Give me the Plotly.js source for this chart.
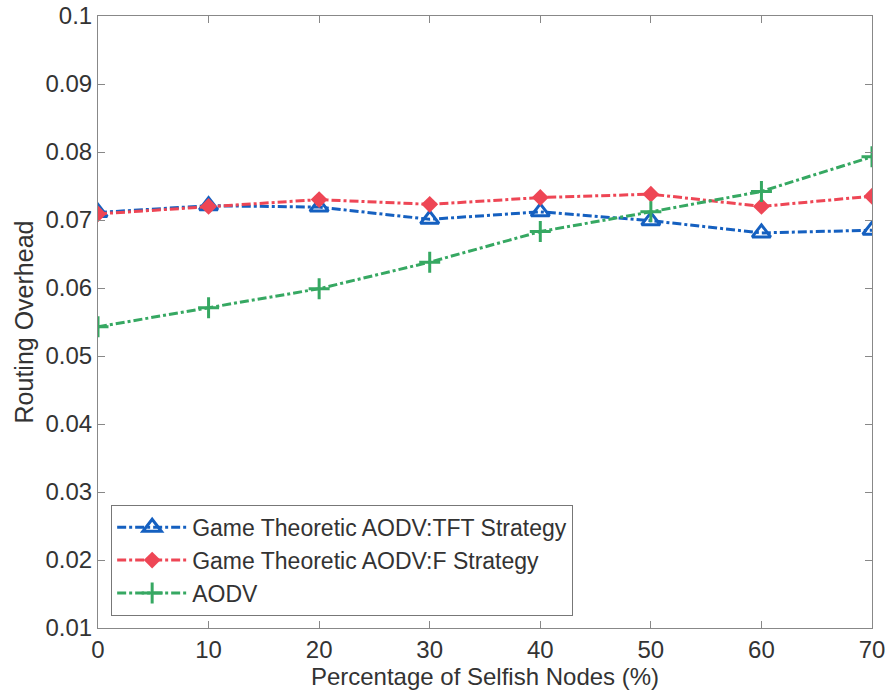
<!DOCTYPE html>
<html><head><meta charset="utf-8">
<script src="https://cdn.plot.ly/plotly-3.0.1.min.js"></script>
<style>body{margin:0;background:#fff}#chart{width:888px;height:693px}</style>
</head><body><div id="chart"></div>
<script>
const xValues = [0, 10, 20, 30, 40, 50, 60, 70];
const tftValues = [0.0711, 0.0721, 0.0719, 0.0701, 0.0712, 0.0699, 0.0681, 0.0685];
const fValues = [0.0709, 0.0720, 0.0730, 0.0723, 0.0733, 0.0738, 0.0720, 0.0735];
const aodvValues = [0.0543, 0.0571, 0.0599, 0.0638, 0.0683, 0.0712, 0.0742, 0.0793];
const seriesNames = ['Game Theoretic AODV:TFT Strategy', 'Game Theoretic AODV:F Strategy', 'AODV'];
const yTicks = [0.01,0.02,0.03,0.04,0.05,0.06,0.07,0.08,0.09,0.1];
const yTickLabels = ['0.01','0.02','0.03','0.04','0.05','0.06','0.07','0.08','0.09','0.1'];

const FONT = 'Liberation Sans, Arial, sans-serif';
const traces = [
  {x: xValues, y: tftValues, name: seriesNames[0], mode: 'lines+markers',
   line: {color: '#1560c0', width: 3, dash: 'dashdot'},
   marker: {symbol: 'triangle-up-open', size: 16, color: '#1560c0', line: {width: 3, color: '#1560c0'}}},
  {x: xValues, y: fValues, name: seriesNames[1], mode: 'lines+markers',
   line: {color: '#ee4655', width: 3, dash: 'dashdot'},
   marker: {symbol: 'diamond', size: 13, color: '#ee4655'}},
  {x: xValues, y: aodvValues, name: seriesNames[2], mode: 'lines+markers',
   line: {color: '#36a862', width: 3, dash: 'dashdot'},
   marker: {symbol: 'cross-thin', size: 15, color: '#36a862', line: {width: 3, color: '#36a862'}}}
];

const axisCommon = {showgrid: false, zeroline: false, showline: true, mirror: 'ticks',
  linecolor: '#888', linewidth: 1, ticks: 'inside', ticklen: 7, tickcolor: '#888',
  tickfont: {family: FONT, size: 24, color: '#333'}};

const layout = {
  width: 888, height: 693,
  margin: {l: 98, r: 16, t: 16, b: 65},
  paper_bgcolor: '#fff', plot_bgcolor: '#fff',
  xaxis: Object.assign({}, axisCommon, {range: [0, 70], tickvals: xValues, ticktext: xValues.map(String),
    automargin: false,
    title: {text: 'Percentage of Selfish Nodes (%)', font: {family: FONT, size: 24, color: '#333'}, standoff: 2}}),
  yaxis: Object.assign({}, axisCommon, {range: [0.01, 0.1], tickvals: yTicks, ticktext: yTickLabels,
    automargin: false,
    title: {text: 'Routing Overhead', font: {family: FONT, size: 25, color: '#333'}, standoff: 4}}),
  showlegend: true,
  legend: {x: 0.017, y: 0.02, xanchor: 'left', yanchor: 'bottom', bgcolor: '#fff',
    bordercolor: '#777', borderwidth: 1, tracegroupgap: 4, itemwidth: 70,
    font: {family: FONT, size: 23, color: '#333'}}
};

Plotly.newPlot('chart', traces, layout, {displayModeBar: false, staticPlot: true});
</script></body></html>
